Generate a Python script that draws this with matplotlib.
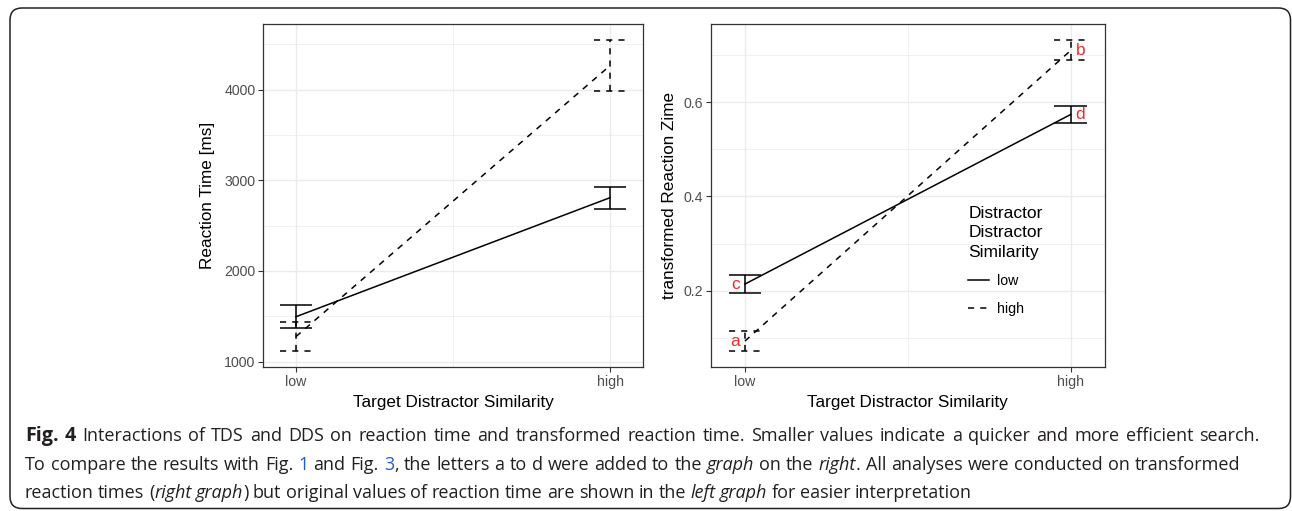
import numpy as np
import matplotlib
matplotlib.use('Agg')
import matplotlib.pyplot as plt
from matplotlib.patches import FancyBboxPatch
from matplotlib.transforms import IdentityTransform

# ---- data ----
tds = [0, 1]
tds_labels = ['low', 'high']
dds_labels = ['low', 'high']

# reaction time [ms], per DDS level: means and error bar bounds
rt_mean = [[1496, 2808], [1277, 4263]]
rt_lo = [[1371, 2687], [1113, 3980]]
rt_hi = [[1621, 2929], [1441, 4547]]

# transformed reaction time
tr_mean = [[0.214, 0.574], [0.093, 0.710]]
tr_lo = [[0.195, 0.556], [0.071, 0.689]]
tr_hi = [[0.233, 0.592], [0.115, 0.732]]

letters = [['c', 'd'], ['a', 'b']]

plt.rcParams['font.family'] = 'Liberation Sans'

W, H = 1292, 511
fig = plt.figure(figsize=(W / 100, H / 100), dpi=100)

styles = ['-', (0, (4, 4))]
LW = 1.1
half = 0.05


def panel(ax, means, los, his, ylim, major, minor, ylabel, fmt, ypad):
    x = np.array(tds, dtype=float)
    for k in range(2):
        ls = styles[k]
        ax.plot(x, means[k], color='black', lw=LW, linestyle=ls, label=dds_labels[k])
        ax.vlines(x, los[k], his[k], colors='black', lw=LW, linestyles=[ls])
        ax.hlines(los[k], x - half, x + half, colors='black', lw=LW, linestyles=[ls])
        ax.hlines(his[k], x - half, x + half, colors='black', lw=LW, linestyles=[ls])
    ax.set_xlim(-0.105, 1.105)
    ax.set_ylim(*ylim)
    ax.set_xticks(tds)
    ax.set_xticklabels(tds_labels)
    ax.set_xticks([0.5], minor=True)
    ax.set_yticks(major)
    ax.set_yticklabels([fmt(v) for v in major])
    ax.set_yticks(minor, minor=True)
    ax.grid(which='major', color='#EBEBEB', lw=1.0)
    ax.grid(which='minor', color='#EBEBEB', lw=0.5)
    ax.set_axisbelow(True)
    for s in ax.spines.values():
        s.set_color('#333333')
        s.set_linewidth(0.9)
    ax.tick_params(which='major', length=3.5, width=0.8, color='#333333',
                   labelcolor='#4D4D4D', labelsize=10.2, pad=2)
    ax.tick_params(which='minor', length=0)
    ax.set_xlabel('Target Distractor Similarity', fontsize=12.3, labelpad=4.5)
    ax.set_ylabel(ylabel, fontsize=12.3, labelpad=ypad)


ax1 = fig.add_axes([263 / W, 1 - 367 / H, 380 / W, 343 / H])
panel(ax1, rt_mean, rt_lo, rt_hi, (942, 4722),
      [1000, 2000, 3000, 4000], [1500, 2500, 3500, 4500],
      'Reaction Time [ms]', lambda v: '%d' % v, 6.5)

ax2 = fig.add_axes([710.7 / W, 1 - 367 / H, 394.3 / W, 343 / H])
panel(ax2, tr_mean, tr_lo, tr_hi, (0.038, 0.766),
      [0.2, 0.4, 0.6], [0.1, 0.3, 0.5, 0.7],
      'transformed Reaction Zime', lambda v: '%.1f' % v, 4.5)

offs = [-0.03, 0.03]
for k in range(2):
    for i in range(2):
        ax2.text(tds[i] + offs[i], tr_mean[k][i], letters[k][i], color='#EE2C2C',
                 fontsize=12.5, ha='center', va='center')

leg = ax2.legend(title='Distractor\nDistractor\nSimilarity', loc='upper left',
                 bbox_to_anchor=(0.653, 0.469), frameon=False, fontsize=10.2,
                 title_fontsize=12.5, handlelength=1.5, handletextpad=0.55,
                 labelspacing=1.0, borderpad=0, borderaxespad=0, alignment='left')
leg.get_title().set_linespacing(1.35)

# ---- caption ----
renderer = fig.canvas.get_renderer()
cap_color = '#231F20'
link_color = '#1F5BD6'


def kw(style, size):
    d = dict(family='Open Sans', fontsize=size, color=cap_color)
    if style == 'bold':
        d['weight'] = 'bold'
        d['fontsize'] = size * 1.1
    if style == 'italic':
        d['style'] = 'italic'
    if style == 'link':
        d['color'] = link_color
    return d


def seg_w(txt, style, size):
    t = fig.text(0, 0, '|' + txt + '|', **kw(style, size))
    a = t.get_window_extent(renderer).width
    t.set_text('||')
    b = t.get_window_extent(renderer).width
    t.remove()
    return a - b


def tokens_of(segs):
    toks = []
    pending = False
    for txt, style in segs:
        for j, p in enumerate(txt.split(' ')):
            if j > 0:
                pending = True
            if p:
                toks.append((p, style, pending and bool(toks)))
                pending = False
    return toks


cap_lines = [
    [('Fig. 4', 'bold'),
     (' Interactions of TDS and DDS on reaction time and transformed reaction time. '
      'Smaller values indicate a quicker and more efficient search.', 'normal')],
    [('To compare the results with Fig. ', 'normal'), ('1', 'link'),
     (' and Fig. ', 'normal'), ('3', 'link'),
     (', the letters a to d were added to the ', 'normal'), ('graph', 'italic'),
     (' on the ', 'normal'), ('right', 'italic'),
     ('. All analyses were conducted on transformed', 'normal')],
    [('reaction times (', 'normal'), ('right graph', 'italic'),
     (') but original values of reaction time are shown in the ', 'normal'),
     ('left graph', 'italic'), (' for easier interpretation', 'normal')],
]
baselines = [441, 469.5, 498]
line_ends = [1260, 1240, 972]
x_start = 25


def natural(toks, size):
    sp = seg_w(' ', 'normal', size)
    return sum(seg_w(w, s, size) + (sp if b else 0) for w, s, b in toks)


# font size fitted to the two lower lines, spacing then evens out the rest
f2 = (line_ends[1] - x_start) / natural(tokens_of(cap_lines[1]), 10)
f3 = (line_ends[2] - x_start) / natural(tokens_of(cap_lines[2]), 10)
cap_size = 10 * (f2 + f3) / 2
space = seg_w(' ', 'normal', cap_size)

for segs, yb, xend in zip(cap_lines, baselines, line_ends):
    toks = tokens_of(segs)
    nsp = sum(1 for t in toks if t[2])
    extra = (xend - x_start - natural(toks, cap_size)) / max(nsp, 1)
    x = x_start
    for word, style, sp in toks:
        if sp:
            x += space + extra
        fig.text(x / W, 1 - yb / H, word, ha='left', va='baseline', **kw(style, cap_size))
        x += seg_w(word, style, cap_size)

box = FancyBboxPatch((10, 2.5), 1280.5, 500.5, boxstyle='round,pad=0,rounding_size=12',
                     transform=IdentityTransform(), fill=False, lw=1.1, ec='#222222')
fig.patches.append(box)

fig.savefig('out.png', dpi=100)
